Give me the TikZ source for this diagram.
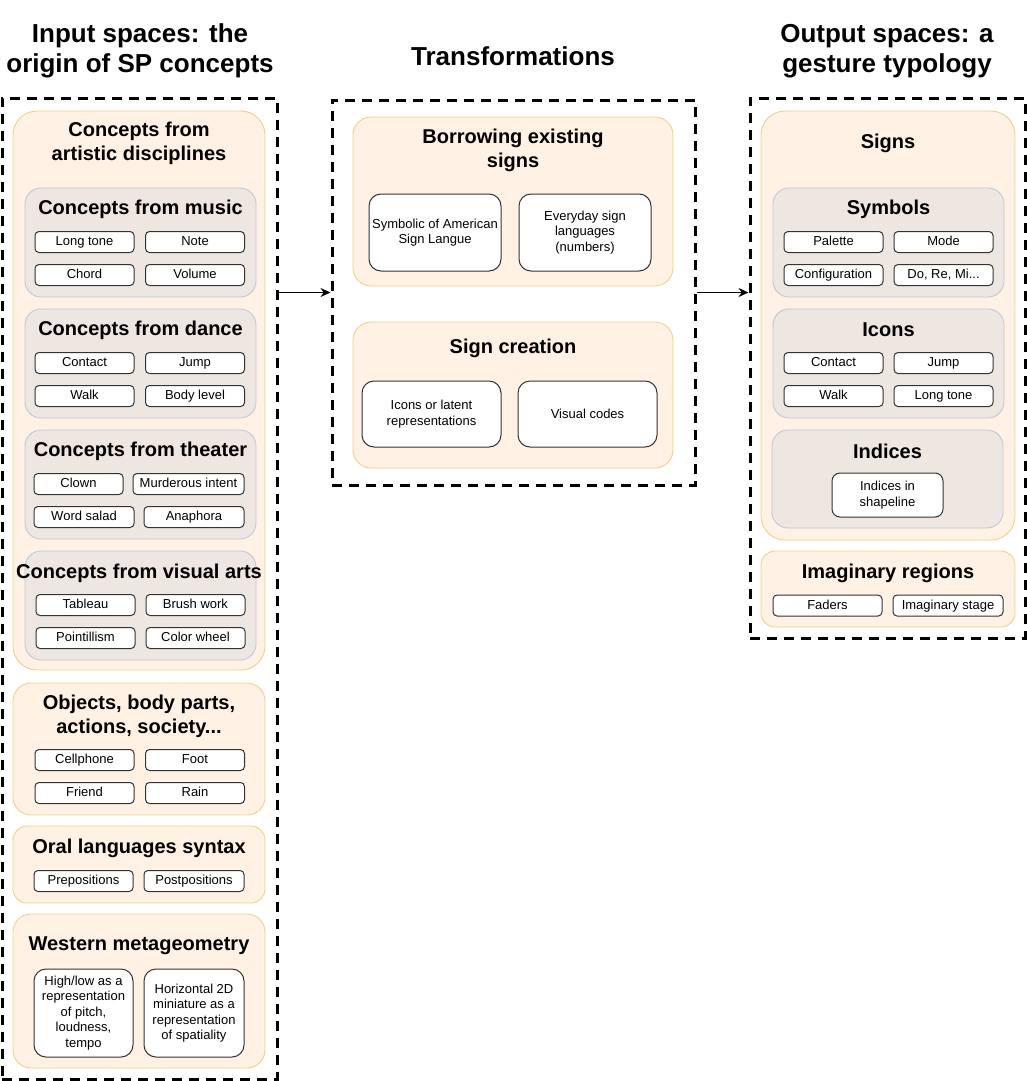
\documentclass[tikz,border=0pt]{standalone}
\usepackage{fontspec}
\setmainfont{Liberation Sans}
\usepackage{xcolor}
\usepackage{tikz}
\usetikzlibrary{arrows.meta,calc}

\definecolor{orangefill}{HTML}{FFF1E3}
\definecolor{orangeline}{HTML}{F0D08C}
\definecolor{grayfill}{HTML}{EEE6E1}
\definecolor{grayline}{HTML}{BFC9DA}
\definecolor{itemline}{HTML}{333333}

\begin{document}
\begin{tikzpicture}[
			x=1pt, y=-1pt,
			every node/.style={font=\fontsize{13}{15.5}\selectfont, align=center},
			frame/.style={rectangle, draw=black, line width=3pt, dash pattern=on 10pt off 7pt, inner sep=0pt},
			outer/.style={rectangle, draw=orangeline, fill=orangefill, line width=0.9pt, rounded corners=18pt, inner sep=0pt},
			inner/.style={rectangle, draw=grayline, fill=grayfill, line width=0.9pt, rounded corners=16pt, inner sep=0pt, minimum width=231pt, minimum height=109pt},
			item/.style={rectangle, draw=itemline, fill=white, line width=1pt, rounded corners=4pt, inner sep=0pt, minimum width=99pt, minimum height=21pt, text height=9.5pt, text depth=2.5pt},
			bigitem/.style={rectangle, draw=itemline, fill=white, line width=1pt, rounded corners=12pt, inner sep=0pt, minimum width=99pt},
			title/.style={font=\bfseries\fontsize{20}{24}\selectfont},
			heading/.style={font=\bfseries\fontsize{26}{30}\selectfont},
			arrow/.style={-{Stealth[length=10pt, width=9pt]}, line width=1.4pt}
		]
		\useasboundingbox (0,0) rectangle (1027,1081);

		% column headings
		\node (inhead) [heading] at (140,51) {Input spaces: the\\origin of SP concepts};
		\node (midhead) [heading] at (513,56) {Transformations};
		\node (outhead) [heading] at (887,51) {Output spaces: a\\gesture typology};

		% dashed frames
		\node (inframe) [frame, minimum width=275pt, minimum height=981pt] at (139.5,588.5) {};
		\node (midframe) [frame, minimum width=363pt, minimum height=385pt] at (513.5,292.5) {};
		\node (outframe) [frame, minimum width=275pt, minimum height=540pt] at (887.5,368) {};

		% input spaces
		\node (artistic) [outer, rounded corners=24pt, minimum width=252pt, minimum height=559pt] at (139,390.5) {};
		\node [title] at (139,143) {Concepts from\\artistic disciplines};

		\node (music) [inner] at (140.5,242.5) {};
		\node [title] at (140.5,209) {Concepts from music};
		\node (longtone) [item] at (84.5,242) {Long tone};
		\node (note) [item] at (195,242) {Note};
		\node (chord) [item] at (84.5,275) {Chord};
		\node (volume) [item] at (195,275) {Volume};

		\node (dance) [inner] at (140.5,363.5) {};
		\node [title] at (140.5,330) {Concepts from dance};
		\node (contact) [item] at (84.5,363) {Contact};
		\node (jump) [item] at (195,363) {Jump};
		\node (walk) [item] at (84.5,396) {Walk};
		\node (bodylevel) [item] at (195,396) {Body level};

		\node (theater) [inner] at (140.5,484.5) {};
		\node [title] at (140.5,451) {Concepts from theater};
		\node (clown) [item, minimum width=89pt] at (78.5,484) {Clown};
		\node (murder) [item, minimum width=111pt] at (188.5,484) {Murderous intent};
		\node (salad) [item, minimum width=100pt] at (84,517) {Word salad};
		\node (anaphora) [item, minimum width=100pt] at (194,517) {Anaphora};

		\node (visual) [inner] at (140.5,605.5) {};
		\node [title] at (139,573) {Concepts from visual arts};
		\node (tableau) [item] at (85.5,605) {Tableau};
		\node (brush) [item] at (195.5,605) {Brush work};
		\node (pointil) [item] at (85.5,638) {Pointillism};
		\node (wheel) [item] at (195.5,638) {Color wheel};

		\node (objects) [outer, minimum width=252pt, minimum height=132pt] at (139,749) {};
		\node [title] at (139,716) {Objects, body parts,\\actions, society...};
		\node (cellphone) [item] at (84.5,760) {Cellphone};
		\node (foot) [item] at (195,760) {Foot};
		\node (friend) [item] at (84.5,793) {Friend};
		\node (rain) [item] at (195,793) {Rain};

		\node (oral) [outer, rounded corners=14pt, minimum width=252pt, minimum height=77pt] at (139,864.5) {};
		\node [title] at (139,848) {Oral languages syntax};
		\node (prepos) [item] at (83.5,881) {Prepositions};
		\node (postpos) [item, minimum width=100pt] at (194,881) {Postpositions};

		\node (western) [outer, minimum width=252pt, minimum height=154pt] at (139,991) {};
		\node [title] at (139,946) {Western metageometry};
		\node (highlow) [bigitem, minimum height=88pt] at (83.5,1013) {High/low as a\\representation\\of pitch,\\loudness,\\tempo};
		\node (miniature) [bigitem, minimum width=100pt, minimum height=88pt] at (194,1013) {Horizontal 2D\\miniature as a\\representation\\of spatiality};

		% transformations
		\node (borrow) [outer, minimum width=320pt, minimum height=169pt] at (513,201.5) {};
		\node [title] at (513,150) {Borrowing existing\\signs};
		\node (asl) [bigitem, minimum width=132pt, minimum height=77pt] at (435,232.5) {Symbolic of American\\Sign Langue};
		\node (everyday) [bigitem, minimum width=132pt, minimum height=77pt] at (585,232.5) {Everyday sign\\languages\\(numbers)};

		\node (creation) [outer, minimum width=320pt, minimum height=146pt] at (513,395) {};
		\node [title] at (513,348) {Sign creation};
		\node (latent) [bigitem, minimum width=139pt, minimum height=66pt] at (431.5,414) {Icons or latent\\representations};
		\node (codes) [bigitem, minimum width=139pt, minimum height=66pt] at (587.5,414) {Visual codes};

		% output spaces
		\node (signs) [outer, rounded corners=24pt, minimum width=254pt, minimum height=429pt] at (888,325.5) {};
		\node [title] at (888,143) {Signs};

		\node (symbols) [inner] at (888.5,242.5) {};
		\node [title] at (888.5,209) {Symbols};
		\node (palette) [item] at (833.5,242) {Palette};
		\node (mode) [item] at (943.5,242) {Mode};
		\node (config) [item] at (833.5,275) {Configuration};
		\node (doremi) [item] at (943.5,275) {Do, Re, Mi...};

		\node (icons) [inner] at (888.5,363.5) {};
		\node [title] at (888.5,330) {Icons};
		\node (contact2) [item] at (833.5,363) {Contact};
		\node (jump2) [item] at (943.5,363) {Jump};
		\node (walk2) [item] at (833.5,396) {Walk};
		\node (longtone2) [item] at (943.5,396) {Long tone};

		\node (indices) [inner, minimum height=98pt] at (887.5,479) {};
		\node [title] at (887.5,451) {Indices};
		\node (shapeline) [bigitem, rounded corners=8pt, minimum width=111pt, minimum height=44pt] at (887.5,495) {Indices in\\shapeline};

		\node (imaginary) [outer, rounded corners=14pt, minimum width=254pt, minimum height=76pt] at (888,589) {};
		\node [title] at (888,573) {Imaginary regions};
		\node (faders) [item, minimum width=109pt] at (827.5,605.5) {Faders};
		\node (stage) [item, minimum width=110pt] at (948,605.5) {Imaginary stage};

		% arrows - between frames
		\draw[arrow] (inframe.east |- midframe.west) -- (midframe.west);
		\draw[arrow] (midframe.east) -- (outframe.west |- midframe.east);
	\end{tikzpicture}
\end{document}
